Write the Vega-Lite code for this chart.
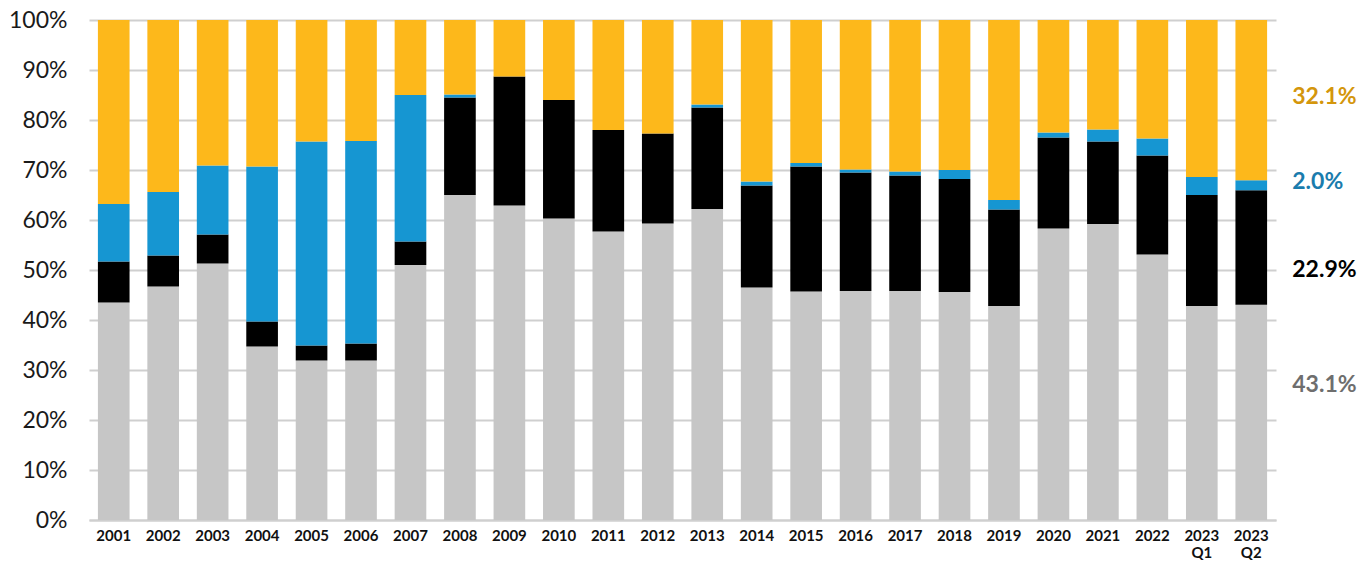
{
  "$schema": "https://vega.github.io/schema/vega-lite/v6.json",
  "width": 1187,
  "height": 500,
  "autosize": {"type": "none"},
  "padding": {"left": 89, "top": 20, "right": 93, "bottom": 46},
  "background": "white",
  "config": {
    "view": {"stroke": null},
    "font": "Lato"
  },
  "data": {
    "values": [
      {"period": "2001", "series": "gray", "value": 43.5}, {"period": "2001", "series": "black", "value": 8.2}, {"period": "2001", "series": "blue", "value": 11.5}, {"period": "2001", "series": "yellow", "value": 36.8},
      {"period": "2002", "series": "gray", "value": 46.7}, {"period": "2002", "series": "black", "value": 6.2}, {"period": "2002", "series": "blue", "value": 12.7}, {"period": "2002", "series": "yellow", "value": 34.4},
      {"period": "2003", "series": "gray", "value": 51.3}, {"period": "2003", "series": "black", "value": 5.8}, {"period": "2003", "series": "blue", "value": 13.8}, {"period": "2003", "series": "yellow", "value": 29.1},
      {"period": "2004", "series": "gray", "value": 34.7}, {"period": "2004", "series": "black", "value": 5.0}, {"period": "2004", "series": "blue", "value": 31.0}, {"period": "2004", "series": "yellow", "value": 29.3},
      {"period": "2005", "series": "gray", "value": 31.9}, {"period": "2005", "series": "black", "value": 3.0}, {"period": "2005", "series": "blue", "value": 40.8}, {"period": "2005", "series": "yellow", "value": 24.3},
      {"period": "2006", "series": "gray", "value": 31.9}, {"period": "2006", "series": "black", "value": 3.4}, {"period": "2006", "series": "blue", "value": 40.5}, {"period": "2006", "series": "yellow", "value": 24.2},
      {"period": "2007", "series": "gray", "value": 51.0}, {"period": "2007", "series": "black", "value": 4.7}, {"period": "2007", "series": "blue", "value": 29.3}, {"period": "2007", "series": "yellow", "value": 15.0},
      {"period": "2008", "series": "gray", "value": 65.0}, {"period": "2008", "series": "black", "value": 19.5}, {"period": "2008", "series": "blue", "value": 0.6}, {"period": "2008", "series": "yellow", "value": 14.9},
      {"period": "2009", "series": "gray", "value": 62.9}, {"period": "2009", "series": "black", "value": 25.8}, {"period": "2009", "series": "blue", "value": 0.0}, {"period": "2009", "series": "yellow", "value": 11.3},
      {"period": "2010", "series": "gray", "value": 60.3}, {"period": "2010", "series": "black", "value": 23.7}, {"period": "2010", "series": "blue", "value": 0.0}, {"period": "2010", "series": "yellow", "value": 16.0},
      {"period": "2011", "series": "gray", "value": 57.7}, {"period": "2011", "series": "black", "value": 20.3}, {"period": "2011", "series": "blue", "value": 0.0}, {"period": "2011", "series": "yellow", "value": 22.0},
      {"period": "2012", "series": "gray", "value": 59.3}, {"period": "2012", "series": "black", "value": 18.0}, {"period": "2012", "series": "blue", "value": 0.0}, {"period": "2012", "series": "yellow", "value": 22.7},
      {"period": "2013", "series": "gray", "value": 62.2}, {"period": "2013", "series": "black", "value": 20.3}, {"period": "2013", "series": "blue", "value": 0.6}, {"period": "2013", "series": "yellow", "value": 16.9},
      {"period": "2014", "series": "gray", "value": 46.5}, {"period": "2014", "series": "black", "value": 20.4}, {"period": "2014", "series": "blue", "value": 0.8}, {"period": "2014", "series": "yellow", "value": 32.3},
      {"period": "2015", "series": "gray", "value": 45.7}, {"period": "2015", "series": "black", "value": 25.0}, {"period": "2015", "series": "blue", "value": 0.7}, {"period": "2015", "series": "yellow", "value": 28.6},
      {"period": "2016", "series": "gray", "value": 45.8}, {"period": "2016", "series": "black", "value": 23.7}, {"period": "2016", "series": "blue", "value": 0.6}, {"period": "2016", "series": "yellow", "value": 29.9},
      {"period": "2017", "series": "gray", "value": 45.8}, {"period": "2017", "series": "black", "value": 23.1}, {"period": "2017", "series": "blue", "value": 0.8}, {"period": "2017", "series": "yellow", "value": 30.3},
      {"period": "2018", "series": "gray", "value": 45.6}, {"period": "2018", "series": "black", "value": 22.6}, {"period": "2018", "series": "blue", "value": 1.8}, {"period": "2018", "series": "yellow", "value": 30.0},
      {"period": "2019", "series": "gray", "value": 42.8}, {"period": "2019", "series": "black", "value": 19.3}, {"period": "2019", "series": "blue", "value": 1.9}, {"period": "2019", "series": "yellow", "value": 36.0},
      {"period": "2020", "series": "gray", "value": 58.3}, {"period": "2020", "series": "black", "value": 18.2}, {"period": "2020", "series": "blue", "value": 1.0}, {"period": "2020", "series": "yellow", "value": 22.5},
      {"period": "2021", "series": "gray", "value": 59.2}, {"period": "2021", "series": "black", "value": 16.5}, {"period": "2021", "series": "blue", "value": 2.4}, {"period": "2021", "series": "yellow", "value": 21.9},
      {"period": "2022", "series": "gray", "value": 53.1}, {"period": "2022", "series": "black", "value": 19.8}, {"period": "2022", "series": "blue", "value": 3.4}, {"period": "2022", "series": "yellow", "value": 23.7},
      {"period": "2023 Q1", "series": "gray", "value": 42.8}, {"period": "2023 Q1", "series": "black", "value": 22.2}, {"period": "2023 Q1", "series": "blue", "value": 3.6}, {"period": "2023 Q1", "series": "yellow", "value": 31.4},
      {"period": "2023 Q2", "series": "gray", "value": 43.1}, {"period": "2023 Q2", "series": "black", "value": 22.9}, {"period": "2023 Q2", "series": "blue", "value": 2.0}, {"period": "2023 Q2", "series": "yellow", "value": 32.1}
    ]
  },
  "transform": [
    {"calculate": "indexof(['gray','black','blue','yellow'], datum.series)", "as": "rank"},
    {"stack": "value", "groupby": ["period"], "sort": [{"field": "rank", "order": "ascending"}], "offset": "normalize", "as": ["v0", "v1"]},
    {"calculate": "(datum.v0 + datum.v1) / 2", "as": "mid"},
    {"calculate": "format(datum.value, '.1f') + '%'", "as": "label"}
  ],
  "encoding": {
    "x": {
      "field": "period",
      "type": "nominal",
      "sort": null,
      "scale": {"paddingInner": 0.36, "paddingOuter": 0.18},
      "axis": {
        "title": null,
        "labelAngle": 0,
        "labelFont": "Lato",
        "labelFontWeight": "bold",
        "labelFontSize": 15,
        "labelColor": "#111111",
        "labelPadding": 8,
        "ticks": false,
        "domain": true,
        "domainColor": "#cfcfcf",
        "domainWidth": 2,
        "labelExpr": "split(datum.label, ' ')",
        "labelLineHeight": 17
      }
    }
  },
  "layer": [
    {
      "mark": {"type": "bar"},
      "encoding": {
        "y": {
          "field": "v0",
          "type": "quantitative",
          "scale": {"domain": [0, 1], "nice": false},
          "axis": {
            "title": null,
            "format": ".0%",
            "values": [0, 0.1, 0.2, 0.3, 0.4, 0.5, 0.6, 0.7, 0.8, 0.9, 1],
            "labelOverlap": false,
            "labelFont": "Lato",
            "labelFontSize": 23,
            "labelColor": "#1a1a1a",
            "labelPadding": 22,
            "ticks": false,
            "domain": false,
            "grid": true,
            "gridColor": "#cfcfcf",
            "gridWidth": 2
          }
        },
        "y2": {"field": "v1"},
        "color": {
          "field": "series",
          "type": "nominal",
          "scale": {"domain": ["gray", "black", "blue", "yellow"], "range": ["#c6c6c6", "#000000", "#1696d2", "#fdb81b"]},
          "legend": null
        }
      }
    },
    {
      "transform": [{"filter": "datum.period == '2023 Q2' && datum.series == 'yellow'"}],
      "mark": {"type": "text", "align": "left", "baseline": "middle", "dx": 41, "dy": -3, "font": "Lato", "fontWeight": "bold", "fontSize": 23, "color": "#d4960c"},
      "encoding": {"y": {"field": "mid", "type": "quantitative"}, "text": {"field": "label", "type": "nominal"}}
    },
    {
      "transform": [{"filter": "datum.period == '2023 Q2' && datum.series == 'blue'"}],
      "mark": {"type": "text", "align": "left", "baseline": "middle", "dx": 41, "dy": -3, "font": "Lato", "fontWeight": "bold", "fontSize": 23, "color": "#1a7cad"},
      "encoding": {"y": {"field": "mid", "type": "quantitative"}, "text": {"field": "label", "type": "nominal"}}
    },
    {
      "transform": [{"filter": "datum.period == '2023 Q2' && datum.series == 'black'"}],
      "mark": {"type": "text", "align": "left", "baseline": "middle", "dx": 41, "dy": 22, "font": "Lato", "fontWeight": "bold", "fontSize": 23, "color": "#000000"},
      "encoding": {"y": {"field": "mid", "type": "quantitative"}, "text": {"field": "label", "type": "nominal"}}
    },
    {
      "transform": [{"filter": "datum.period == '2023 Q2' && datum.series == 'gray'"}],
      "mark": {"type": "text", "align": "left", "baseline": "middle", "dx": 41, "dy": -27, "font": "Lato", "fontWeight": "bold", "fontSize": 23, "color": "#6e6e6e"},
      "encoding": {"y": {"field": "mid", "type": "quantitative"}, "text": {"field": "label", "type": "nominal"}}
    }
  ]
}
